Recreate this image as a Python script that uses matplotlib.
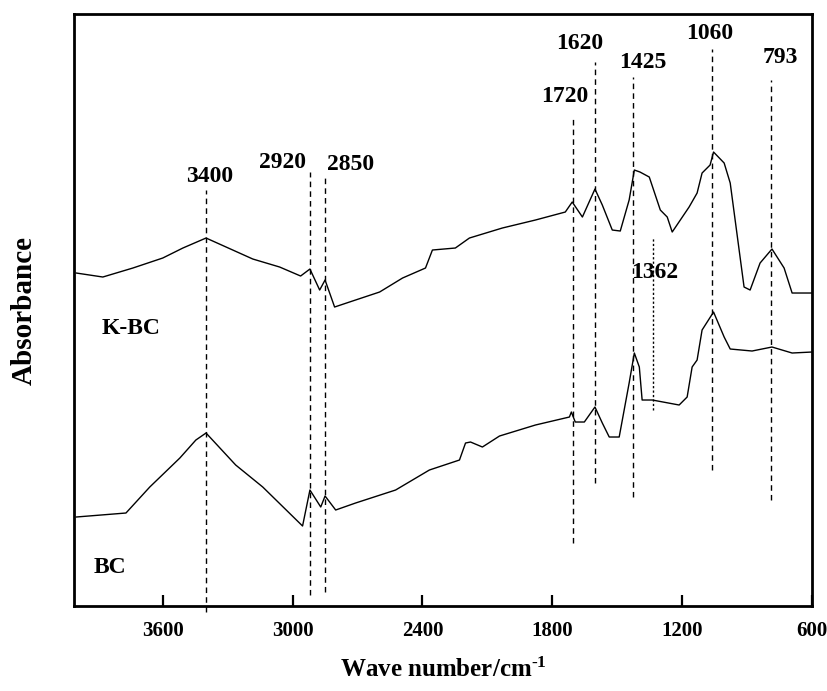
import numpy as np
import matplotlib
matplotlib.use("Agg")
import matplotlib.pyplot as plt

plt.rcParams["font.family"] = ["Liberation Serif", "DejaVu Serif"]
plt.rcParams["font.weight"] = "bold"
plt.rcParams["mathtext.fontset"] = "custom"
plt.rcParams["mathtext.rm"] = "Liberation Serif:bold"
plt.rcParams["mathtext.default"] = "rm"
plt.rcParams["axes.unicode_minus"] = False

# K-BC spectrum (wavenumber, absorbance a.u.)
kbc_wn = [4000, 3877, 3738, 3600, 3507, 3400, 3184, 3060, 2963, 2920, 2875, 2850,
          2806, 2737, 2598, 2492, 2386, 2354, 2248, 2183, 2031, 1878, 1740, 1708,
          1661, 1603, 1569, 1523, 1486, 1445, 1421, 1395, 1352, 1301, 1269, 1246,
          1168, 1131, 1108, 1071, 1055, 1006, 978, 914, 886, 840, 785, 729, 692, 600]
kbc_abs = [3.33, 3.29, 3.38, 3.48, 3.58, 3.68, 3.47, 3.39, 3.30, 3.37, 3.16, 3.26,
           2.99, 3.04, 3.14, 3.28, 3.38, 3.56, 3.58, 3.68, 3.78, 3.86, 3.94, 4.04,
           3.89, 4.17, 4.01, 3.76, 3.75, 4.06, 4.36, 4.34, 4.29, 3.96, 3.89, 3.74,
           3.99, 4.13, 4.33, 4.41, 4.54, 4.43, 4.23, 3.19, 3.16, 3.43, 3.57, 3.38, 3.13, 3.13]

# BC spectrum
bc_wn = [4000, 3770, 3660, 3521, 3447, 3400, 3263, 3138, 2954, 2920, 2870, 2850,
         2801, 2709, 2524, 2368, 2229, 2201, 2178, 2123, 2044, 1878, 1721, 1712,
         1694, 1652, 1603, 1569, 1537, 1491, 1445, 1421, 1398, 1385, 1338, 1214,
         1177, 1154, 1131, 1108, 1055, 1006, 978, 877, 785, 692, 600]
bc_abs = [0.89, 0.93, 1.19, 1.48, 1.66, 1.73, 1.41, 1.19, 0.80, 1.16, 0.99, 1.10,
          0.96, 1.03, 1.16, 1.36, 1.46, 1.63, 1.64, 1.59, 1.70, 1.81, 1.89, 1.94,
          1.84, 1.84, 1.99, 1.83, 1.69, 1.69, 2.23, 2.53, 2.39, 2.06, 2.06, 2.01,
          2.09, 2.39, 2.46, 2.76, 2.94, 2.69, 2.57, 2.55, 2.59, 2.53, 2.54]

# marker lines: position, bottom, top
peak_pos = [3400, 2920, 2850, 1705, 1605, 1425, 1335, 1060, 790]
peak_bottom = [-0.06, 0.11, 0.14, 0.63, 1.23, 1.09, 1.96, 1.36, 1.06]
peak_top = [4.16, 4.34, 4.31, 4.88, 5.44, 5.29, 3.69, 5.57, 5.26]

# peak labels: text, x, y
peak_text = ["3400", "2920", "2850", "1720", "1620", "1425", "1362", "1060", "793"]
peak_tx = [3382, 3049, 2733, 1742, 1672, 1380, 1325, 1075, 745]
peak_ty = [4.30, 4.44, 4.42, 5.10, 5.63, 5.44, 3.34, 5.73, 5.49]

fig = plt.figure(figsize=(8.28, 6.91), dpi=100)
ax = fig.add_axes([0.0894, 0.1230, 0.8913, 0.8567])

ax.plot(kbc_wn, kbc_abs, color="black", lw=1.0)
ax.plot(bc_wn, bc_abs, color="black", lw=1.0)

for p, b, t in zip(peak_pos, peak_bottom, peak_top):
    ls = (0, (1.6, 1.6)) if p == 1335 else (0, (4, 3))
    ax.plot([p, p], [b, t], color="black", lw=1.0, ls=ls, clip_on=False)

for s, x, y in zip(peak_text, peak_tx, peak_ty):
    ax.text(x, y, s, fontsize=17, fontweight="bold", ha="center", va="center")

ax.text(3748, 2.78, "K-BC", fontsize=17, fontweight="bold", ha="center", va="center")
ax.text(3846, 0.39, "BC", fontsize=17, fontweight="bold", ha="center", va="center")

ax.set_xlim(4010, 600)
ax.set_ylim(0, 5.92)
ax.set_xticks([3600, 3000, 2400, 1800, 1200, 600])
ax.set_yticks([])
ax.tick_params(axis="x", direction="in", length=8, width=1.6, pad=11, labelsize=15)
for lab in ax.get_xticklabels():
    lab.set_fontweight("bold")
for sp in ax.spines.values():
    sp.set_linewidth(2.0)

ax.set_xlabel(r"Wave number/cm$^{\text{-1}}$", fontsize=18, fontweight="bold", labelpad=12)
ax.set_ylabel("Absorbance", fontsize=21, fontweight="bold", labelpad=26)

fig.savefig("out.png", dpi=100)
